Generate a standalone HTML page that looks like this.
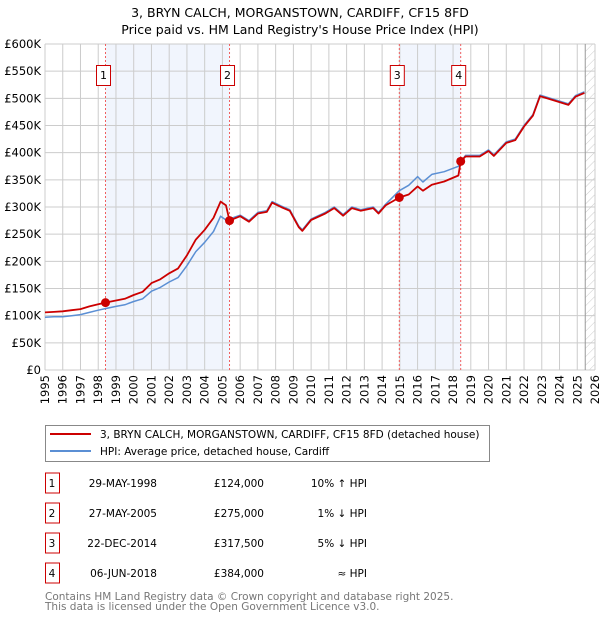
<!DOCTYPE html>
<html><head><meta charset="utf-8"><style>
body{margin:0;background:#fff;}
svg{display:block;font-family:"DejaVu Sans","Liberation Sans",sans-serif;}
</style></head><body>
<svg id="chart" width="600" height="620" viewBox="0 0 600 620">
<text x="300" y="17" text-anchor="middle" font-size="12.5">3, BRYN CALCH, MORGANSTOWN, CARDIFF, CF15 8FD</text>
<text x="300" y="34" text-anchor="middle" font-size="12.5">Price paid vs. HM Land Registry's House Price Index (HPI)</text>
<g id="plot"></g>
<g>
<rect x="45.5" y="425.5" width="444" height="36" fill="#fff" stroke="#888"/>
<line x1="50" y1="434" x2="91" y2="434" stroke="#cc0000" stroke-width="2"/>
<text x="100" y="438" font-size="10.5">3, BRYN CALCH, MORGANSTOWN, CARDIFF, CF15 8FD (detached house)</text>
<line x1="50" y1="451" x2="91" y2="451" stroke="#5b8fd4" stroke-width="2"/>
<text x="100" y="455" font-size="10.5">HPI: Average price, detached house, Cardiff</text>
</g>
<g id="table" font-size="10.5"></g>
<text x="45" y="600" font-size="10.5" fill="#777">Contains HM Land Registry data © Crown copyright and database right 2025.</text>
<text x="45" y="610" font-size="10.5" fill="#777">This data is licensed under the Open Government Licence v3.0.</text>
</svg>
<script>
const hpiDates=[1995,1995.5,1996,1996.5,1997,1997.5,1998,1998.4,1999,1999.5,2000,2000.5,2001,2001.5,2002,2002.5,2003,2003.5,2004,2004.5,2004.9,2005.2,2005.4,2006,2006.5,2007,2007.5,2007.8,2008.3,2008.8,2009.3,2009.5,2010,2010.8,2011.3,2011.8,2012.3,2012.8,2013.5,2013.8,2014.2,2014.97,2015.5,2016,2016.3,2016.8,2017.5,2018.3,2018.43,2018.7,2019.5,2020,2020.3,2021,2021.5,2022,2022.5,2022.9,2023.5,2024,2024.5,2024.9,2025.4];
const hpiValues=[97,98,98,100,102,106,110,113,117,120,126,131,145,152,162,170,192,218,235,255,283,276,278,285,275,290,293,310,302,295,265,258,278,290,300,286,300,295,300,290,305,330,340,356,346,360,365,375,383,395,395,405,396,420,425,450,470,506,500,495,490,505,512];
const priceDates=[1995,1995.5,1996,1996.5,1997,1997.5,1998,1998.4,1999,1999.5,2000,2000.5,2001,2001.5,2002,2002.5,2003,2003.5,2004,2004.5,2004.9,2005.2,2005.4,2006,2006.5,2007,2007.5,2007.8,2008.3,2008.8,2009.3,2009.5,2010,2010.8,2011.3,2011.8,2012.3,2012.8,2013.5,2013.8,2014.2,2014.97,2015.5,2016,2016.3,2016.8,2017.5,2018.3,2018.43,2018.7,2019.5,2020,2020.3,2021,2021.5,2022,2022.5,2022.9,2023.5,2024,2024.5,2024.9,2025.4];
const priceValues=[106,107,108,110,112,117,121,124,128,131,138,144,160,167,178,187,211,240,258,280,310,303,275,283,273,288,291,308,300,293,263,256,276,288,298,284,298,293,298,288,303,317.5,323,338,330,341,347,358,384,393,393,403,394,418,423,448,468,504,498,493,488,503,510];
const saleDates=[1998.41,2005.40,2014.97,2018.43];
const salePrices=[124,275,317.5,384];
const saleLabels=["1","2","3","4"];
const saleDateText=["29-MAY-1998","27-MAY-2005","22-DEC-2014","06-JUN-2018"];
const salePriceText=["£124,000","£275,000","£317,500","£384,000"];
const saleDeltaText=["10% ↑ HPI","1% ↓ HPI","5% ↓ HPI","≈ HPI"];
const yTicks=[0,50,100,150,200,250,300,350,400,450,500,550,600];
const yTickLabels=["£0","£50K","£100K","£150K","£200K","£250K","£300K","£350K","£400K","£450K","£500K","£550K","£600K"];
const xTicks=[1995,1996,1997,1998,1999,2000,2001,2002,2003,2004,2005,2006,2007,2008,2009,2010,2011,2012,2013,2014,2015,2016,2017,2018,2019,2020,2021,2022,2023,2024,2025,2026];

const NS="http://www.w3.org/2000/svg";
const L=45,R=595,T=44,B=370;
const x=v=>L+(v-1995)/(2026-1995)*(R-L);
const y=v=>B-v/600*(B-T);
const plot=document.getElementById('plot');
function mk(tag,attrs,parent){const e=document.createElementNS(NS,tag);for(const k in attrs)e.setAttribute(k,attrs[k]);(parent||plot).appendChild(e);return e;}

mk('rect',{x:L,y:T,width:R-L,height:B-T,fill:'#fff'});
for(let i=0;i<saleDates.length;i+=2){
  const r=mk('rect',{x:x(saleDates[i]),y:T,width:x(saleDates[i+1])-x(saleDates[i]),height:B-T,fill:'#eef3fc',opacity:0.8});
  
  
}
const defs=mk('defs',{});
const pat=mk('pattern',{id:'hatch',width:6,height:6,patternUnits:'userSpaceOnUse',patternTransform:'rotate(45)'},defs);
mk('line',{x1:0,y1:0,x2:0,y2:6,stroke:'#ccc','stroke-width':1},pat);
const hx=x(2025.45);
const hr=mk('rect',{x:hx,y:T,width:R-hx,height:B-T,fill:'url(#hatch)'});


xTicks.forEach(t=>{
  const g=mk('line',{x1:x(t),y1:T,x2:x(t),y2:B,stroke:'#ccc','stroke-width':1});
  
  
  const tl=mk('text',{x:0,y:0,transform:`translate(${x(t)+4},${B+5}) rotate(-90)`,'text-anchor':'end','font-size':11.5});
  tl.textContent=t;
  
  
});
yTicks.forEach((t,i)=>{
  const g=mk('line',{x1:L,y1:y(t),x2:R,y2:y(t),stroke:'#ccc','stroke-width':1});
  
  
  const tl=mk('text',{x:L-4,y:y(t)+4,'text-anchor':'end','font-size':11.5});
  tl.textContent=yTickLabels[i];
  
  
});
mk('line',{x1:hx,y1:T,x2:hx,y2:B,stroke:'#999','stroke-width':1});
saleDates.forEach((d,i)=>{
  const v=mk('line',{x1:x(d),y1:T,x2:x(d),y2:B,stroke:'#f06060','stroke-width':1,'stroke-dasharray':'2,2'});
  
  
  const bx=mk('rect',{x:x(d)-9,y:65.5,width:14,height:20,fill:'#fff',stroke:'#cc0000'});
  
  
  const t=mk('text',{x:x(d)-2,y:79,'text-anchor':'middle','font-size':11});
  t.textContent=saleLabels[i];
  
  
});
function line(ds,vs,col,w,name){
  const p=mk('path',{d:ds.map((d,i)=>(i?'L':'M')+x(d).toFixed(1)+','+y(vs[i]).toFixed(1)).join(''),fill:'none',stroke:col,'stroke-width':w,'stroke-linejoin':'round'});
  
  
}
line(hpiDates,hpiValues,'#5b8fd4',1.5,'hpi-line');
line(priceDates,priceValues,'#cc0000',1.8,'price-line');
saleDates.forEach((d,i)=>{
  const c=mk('circle',{cx:x(d),cy:y(salePrices[i]),r:4.5,fill:'#cc0000'});
  
  
});
const tb=document.getElementById('table');
saleLabels.forEach((s,i)=>{
  const cy=483+i*30;
  const b=mk('rect',{x:45.5,y:cy-10,width:14,height:20,fill:'#fff',stroke:'#cc0000'},tb);
  
  
  const cols=[[52,s,'middle'],[157,saleDateText[i],'end'],[264,salePriceText[i],'end'],[367,saleDeltaText[i],'end']];
  cols.forEach(c=>{
    const t=mk('text',{x:c[0],y:cy+4,'text-anchor':c[2]},tb);
    t.textContent=c[1];
    
    
  });
});
</script>
</body></html>
